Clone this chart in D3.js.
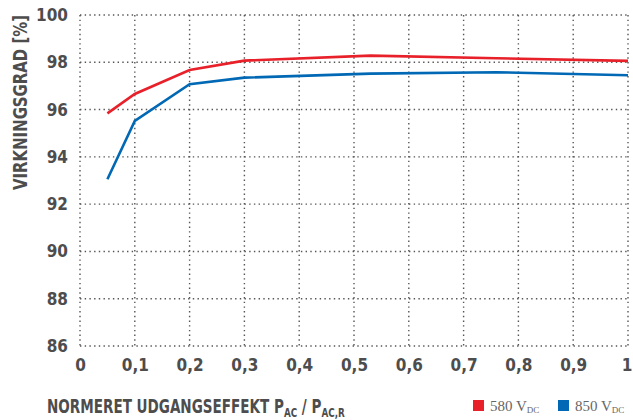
<!DOCTYPE html>
<html>
<head>
<meta charset="utf-8">
<script src="https://cdn.jsdelivr.net/npm/d3@7"></script>
<style>
  body { margin: 0; background: #fff; }
  .tick text { font-family: "DejaVu Sans Condensed", "DejaVu Sans", sans-serif; font-weight: bold; fill: #4d4d4d; }
  .title { font-family: "DejaVu Sans Condensed", "DejaVu Sans", sans-serif; font-weight: bold; fill: #4d4d4d; }
  .legend text { font-family: "Liberation Serif", "DejaVu Serif", serif; fill: #666; }
</style>
</head>
<body>
<script>
// ----------- data -----------
const loads = [0.05, 0.1, 0.2, 0.3, 0.53, 0.76, 1.0];
const eff580 = [95.84, 96.66, 97.67, 98.07, 98.28, 98.17, 98.06];
const eff850 = [93.05, 95.52, 97.07, 97.35, 97.52, 97.58, 97.45];
const xTicks = [0, 0.1, 0.2, 0.3, 0.4, 0.5, 0.6, 0.7, 0.8, 0.9, 1];
const yTicks = [86, 88, 90, 92, 94, 96, 98, 100];
const seriesNames = ["580", "850"];

const width = 633, height = 420;
const margin = { left: 80, right: 5, top: 15, bottom: 74 };

const svg = d3.select("body").append("svg").attr("width", width).attr("height", height);

const x = d3.scaleLinear().domain([0, 1]).range([margin.left, width - margin.right]);
const y = d3.scaleLinear().domain([86, 100]).range([height - margin.bottom, margin.top]);

// ----------- grid -----------
const grid = svg.append("g").attr("stroke", "#555").attr("stroke-width", 1.4).attr("stroke-dasharray", "1.4,3.3");
grid.selectAll(".vg").data(xTicks).enter().append("line")
  .attr("x1", d => x(d)).attr("x2", d => x(d))
  .attr("y1", y(100)).attr("y2", y(86));
grid.selectAll(".hg").data(yTicks).enter().append("line")
  .attr("x1", x(0)).attr("x2", x(1))
  .attr("y1", d => y(d)).attr("y2", d => y(d));

// ----------- axes -----------
const fmt = d => d3.format(".1f")(d).replace(/\.0$/, "").replace(".", ",");
const xAxis = svg.append("g").attr("transform", `translate(0, ${y(86)})`)
  .call(d3.axisBottom(x).tickValues(xTicks).tickFormat(fmt).tickSize(0).tickPadding(13));
xAxis.select(".domain").remove();
xAxis.selectAll("text").style("font-size", "17px");
// last label sits flush to the right edge
xAxis.selectAll("text").filter(d => d === 1).attr("text-anchor", "end").attr("dx", 4);

const yAxis = svg.append("g").attr("transform", `translate(${x(0)}, 0)`)
  .call(d3.axisLeft(y).tickValues(yTicks).tickSize(0).tickPadding(12));
yAxis.select(".domain").remove();
yAxis.selectAll("text").style("font-size", "17px");

// ----------- lines -----------
const line = vals => d3.line().x((d, i) => x(loads[i])).y(d => y(d))(vals);
svg.append("path").attr("d", line(eff580)).attr("fill", "none").attr("stroke", "#e8202a").attr("stroke-width", 2.6);
svg.append("path").attr("d", line(eff850)).attr("fill", "none").attr("stroke", "#0068b4").attr("stroke-width", 2.6);

// ----------- titles -----------
// squeeze text horizontally to the width it has in the original
function fitWidth(sel, w) {
  const bb = sel.node().getBBox();
  return w / bb.width;
}

const yt = svg.append("g");
const ytText = yt.append("text").attr("class", "title").attr("text-anchor", "middle")
  .style("font-size", "20px").text("VIRKNINGSGRAD [%]");
const ys = fitWidth(ytText, 175);
yt.attr("transform", `translate(27, 102.5) rotate(-90) scale(${ys}, 1)`);

const xg = svg.append("g");
const xt = xg.append("text").attr("class", "title").style("font-size", "20px");
xt.append("tspan").text("NORMERET UDGANGSEFFEKT P");
xt.append("tspan").attr("dy", 4).style("font-size", "13px").text("AC");
xt.append("tspan").attr("dy", -4).text(" / P");
xt.append("tspan").attr("dy", 4).style("font-size", "13px").text("AC,R");
const xs = fitWidth(xt, 298);
xg.attr("transform", `translate(47, 413) scale(${xs}, 1)`);

// ----------- legend -----------
const legend = svg.append("g").attr("class", "legend");
const colors = ["#e8202a", "#0068b4"];
const lx = [473, 558];
seriesNames.forEach((n, i) => {
  legend.append("rect").attr("x", lx[i]).attr("y", 400).attr("width", 11).attr("height", 11).attr("fill", colors[i]);
  const t = legend.append("text").attr("x", lx[i] + 17).attr("y", 411).style("font-size", "15px");
  t.append("tspan").text(n + " V");
  t.append("tspan").attr("dy", 2).style("font-size", "9px").text("DC");
});
</script>
</body>
</html>
